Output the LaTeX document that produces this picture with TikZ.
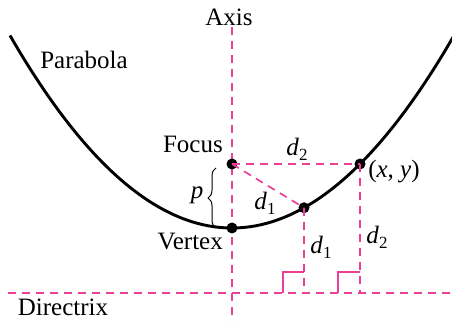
\documentclass[tikz,border=0pt]{standalone}
\usepackage{fontspec}
\setmainfont{Liberation Serif}
\usetikzlibrary{decorations.pathreplacing}
\definecolor{mag}{RGB}{236,64,150}
\newcommand\vd[1]{\textit{d}\raisebox{-5pt}{\fontsize{17}{17}\selectfont #1}}
\begin{document}
\begin{tikzpicture}[x=1pt,y=1pt,
  lbl/.style={font=\fontsize{25}{30}\selectfont, inner sep=0pt},
  dot/.style={circle,fill=black,inner sep=0pt,minimum size=11pt},
  guide/.style={draw=mag,line width=1.7pt,dash pattern=on 8pt off 6pt},
  rmark/.style={draw=mag,line width=1.9pt}]
\useasboundingbox (0,0) rectangle (452,321);
% guides
\coordinate (At) at (232,294);
\coordinate (Ab) at (232,0);
\coordinate (Dl) at (8,28);
\coordinate (Dr) at (452,28);
\draw[guide] (At) -- (Ab);
\draw[guide] (Dl) -- (Dr);
% parabola
\begin{scope}
\clip (0,0) rectangle (452,321);
\draw[line width=2.9pt] plot[domain=-222:224,samples=120,smooth] ({232+\x},{93+(\x/16)*(\x/16)});
\end{scope}
% points
\node[dot] (V) at (232,93) {};
\node[dot] (F) at (232,157) {};
\node[dot] (P1) at (304,113.25) {};
\node[dot] (P2) at (360,157) {};
\coordinate (Q1) at (304,28);
\coordinate (Q2) at (360,28);
\draw[guide] (F.center) -- (P2.center);
\draw[guide] (F.center) -- (P1.center);
\draw[guide] (P1.center) -- (Q1);
\draw[guide] (P2.center) -- (Q2);
% right-angle marks
\draw[rmark] (283,28) -- (283,49) -- (304,49);
\draw[rmark] (338,28) -- (338,49) -- (360,49);
% brace
\draw[line width=1pt,decoration={brace,amplitude=8pt},decorate] (216,93) -- (216,153);
% labels
\node[lbl] (axis) at (229,304) {Axis};
\node[lbl] (parab) at (84,261) {Parabola};
\node[lbl,anchor=east] (focus) at (223,177) {Focus};
\node[lbl,anchor=east] (vertex) at (223,79) {Vertex};
\node[lbl] (dirx) at (63,14) {Directrix};
\node[lbl] (d2t) at (297,172) {\vd{2}};
\node[lbl] (xy) at (394,149) {(\textit{x}, \textit{y})};
\node[lbl] (d1m) at (265,118) {\vd{1}};
\node[lbl] (d1b) at (321,74) {\vd{1}};
\node[lbl] (d2r) at (377,84) {\vd{2}};
\node[lbl] (p) at (197,126) {\textit{p}};
\end{tikzpicture}
\end{document}
